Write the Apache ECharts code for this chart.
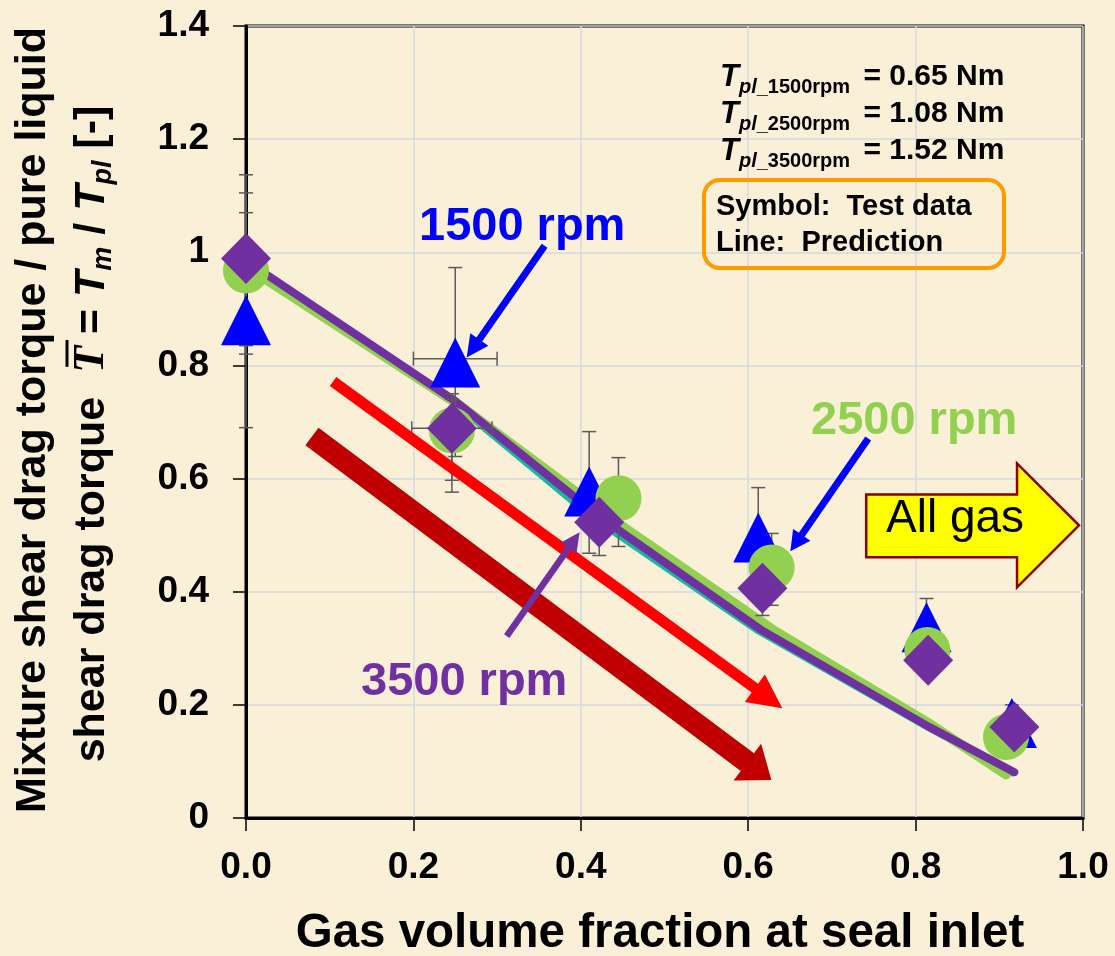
<!DOCTYPE html>
<html>
<head>
<meta charset="utf-8">
<script src="https://cdn.jsdelivr.net/npm/echarts@6/dist/echarts.min.js"></script>
<style>
html,body{margin:0;padding:0;background:#FAEFD7;}
#c{width:1115px;height:956px;}
</style>
</head>
<body>
<div id="c"></div>
<script>
// ---------- data ----------
const xTickLabels = ['0.0', '0.2', '0.4', '0.6', '0.8', '1.0'];
const yTickLabels = ['0', '0.2', '0.4', '0.6', '0.8', '1', '1.2', '1.4'];

// test data (symbols)
const gvf1500  = [0, 0.25, 0.41, 0.612, 0.813, 0.915];
const test1500 = [0.88, 0.805, 0.577, 0.496, 0.337, 0.168];
const low1500  = [0.69, 0.639, 0.468, 0.41, 0.29, 0.13];
const high1500 = [1.137, 0.973, 0.683, 0.584, 0.388, 0.2];

const gvf2500  = [0, 0.246, 0.445, 0.628, 0.814, 0.908];
const test2500 = [0.968, 0.685, 0.565, 0.443, 0.297, 0.143];
const low2500  = [0.835, 0.597, 0.48, 0.376, 0.26, 0.12];
const high2500 = [1.105, 0.75, 0.637, 0.503, 0.33, 0.17];

const gvf3500  = [0, 0.246, 0.422, 0.617, 0.815, 0.918];
const test3500 = [0.989, 0.689, 0.523, 0.406, 0.279, 0.161];
const low3500  = [0.82, 0.576, 0.464, 0.358, 0.25, 0.13];
const high3500 = [1.07, 0.74, 0.58, 0.45, 0.31, 0.19];

// horizontal error bars (gas fraction uncertainty) at 0.25
const hErrY    = [0.812, 0.689];
const hErrLow  = [0.2, 0.198];
const hErrHigh = [0.3, 0.294];

// predictions (lines)
const pred1500X = [0, 0.25, 0.41, 0.612, 0.813, 0.915];
const pred1500Y = [0.975, 0.732, 0.536, 0.331, 0.162, 0.08];
const pred2500X = [0, 0.25, 0.445, 0.63, 0.815, 0.908];
const pred2500Y = [0.975, 0.735, 0.52, 0.332, 0.168, 0.077];
const pred3500X = [0, 0.25, 0.42, 0.615, 0.815, 0.918];
const pred3500Y = [0.985, 0.737, 0.535, 0.333, 0.162, 0.081];

// ---------- chart ----------
const FONT = '"Liberation Sans", Arial, sans-serif';
const SERIF = '"Liberation Serif", "Times New Roman", serif';
const chart = echarts.init(document.getElementById('c'), null, {renderer: 'canvas'});

const pairs = (xs, ys) => xs.map((x, i) => [x, ys[i]]);

function lineSeries(xs, ys, color, width) {
  return {
    type: 'line', data: pairs(xs, ys), symbol: 'none', showSymbol: false,
    lineStyle: {color: color, width: width, cap: 'round', join: 'round'},
    clip: false, silent: true, z: 2
  };
}

function vErrSeries(xs, lo, hi) {
  return {
    type: 'custom', silent: true, clip: false, z: 3,
    data: xs.map((x, i) => [x, lo[i], hi[i]]),
    encode: {x: 0, y: [1, 2]},
    renderItem: function (params, api) {
      const x = api.value(0), l = api.value(1), h = api.value(2);
      const pt = api.coord([x, h]), pb = api.coord([x, l]);
      const c = 7;
      const st = {stroke: '#5B5B5B', lineWidth: 1.5};
      return {type: 'group', children: [
        {type: 'line', shape: {x1: pt[0], y1: pt[1], x2: pb[0], y2: pb[1]}, style: st},
        {type: 'line', shape: {x1: pt[0] - c, y1: pt[1], x2: pt[0] + c, y2: pt[1]}, style: st},
        {type: 'line', shape: {x1: pb[0] - c, y1: pb[1], x2: pb[0] + c, y2: pb[1]}, style: st}
      ]};
    }
  };
}

function hErrSeries(ys, lo, hi) {
  return {
    type: 'custom', silent: true, clip: false, z: 3,
    data: ys.map((y, i) => [y, lo[i], hi[i]]),
    encode: {y: 0, x: [1, 2]},
    renderItem: function (params, api) {
      const y = api.value(0), l = api.value(1), h = api.value(2);
      const pl = api.coord([l, y]), pr = api.coord([h, y]);
      const c = 7;
      const st = {stroke: '#5B5B5B', lineWidth: 1.5};
      return {type: 'group', children: [
        {type: 'line', shape: {x1: pl[0], y1: pl[1], x2: pr[0], y2: pr[1]}, style: st},
        {type: 'line', shape: {x1: pl[0], y1: pl[1] - c, x2: pl[0], y2: pl[1] + c}, style: st},
        {type: 'line', shape: {x1: pr[0], y1: pr[1] - c, x2: pr[0], y2: pr[1] + c}, style: st}
      ]};
    }
  };
}

function scatterSeries(xs, ys, symbol, size, color, z) {
  return {
    type: 'scatter', data: pairs(xs, ys), symbol: symbol, symbolSize: size,
    itemStyle: {color: color, opacity: 1}, clip: false, silent: true, z: z
  };
}

const option = {
  backgroundColor: '#FAEFD7',
  animation: false,
  grid: {left: 246, top: 26, right: 32, bottom: 138, show: true, borderColor: '#000', borderWidth: 3,
         backgroundColor: 'transparent', outerBoundsMode: 'none', containLabel: false},
  xAxis: {
    type: 'value', min: 0, max: 1, interval: 0.2,
    axisLine: {show: true, onZero: false, lineStyle: {color: '#000', width: 3}},
    axisTick: {show: true, inside: false, length: 13, lineStyle: {color: '#000', width: 1.5}},
    axisLabel: {show: true, margin: 31, color: '#000', fontSize: 37, fontWeight: 'bold', fontFamily: FONT,
                showMinLabel: true, showMaxLabel: true,
                formatter: v => xTickLabels[Math.round(v / 0.2)]},
    splitLine: {show: true, lineStyle: {color: '#D3D8DF', width: 1.5}}
  },
  yAxis: {
    type: 'value', min: 0, max: 1.4, interval: 0.2,
    axisLine: {show: true, onZero: false, lineStyle: {color: '#000', width: 3}},
    axisTick: {show: true, inside: false, length: 13, lineStyle: {color: '#000', width: 1.5}},
    axisLabel: {show: true, margin: 37, color: '#000', fontSize: 37, fontWeight: 'bold', fontFamily: FONT,
                showMinLabel: true, showMaxLabel: true,
                formatter: v => yTickLabels[Math.round(v / 0.2)]},
    splitLine: {show: true, lineStyle: {color: '#D3D8DF', width: 1.5}}
  },
  series: [
    lineSeries(pred1500X, pred1500Y, '#19B7A0', 7),
    lineSeries(pred2500X, pred2500Y, '#92D050', 10),
    lineSeries(pred3500X, pred3500Y, '#7030A0', 8),
    vErrSeries(gvf1500, low1500, high1500),
    vErrSeries(gvf2500, low2500, high2500),
    vErrSeries(gvf3500, low3500, high3500),
    hErrSeries(hErrY, hErrLow, hErrHigh),
    scatterSeries(gvf1500, test1500, 'triangle', [50, 50], '#0000FF', 5),
    scatterSeries(gvf2500, test2500, 'circle', 46, '#92D050', 6),
    scatterSeries(gvf3500, test3500, 'diamond', [50, 51], '#7030A0', 7)
  ]
};
chart.setOption(option);

// ---------- annotations ----------
const P = (x, y) => chart.convertToPixel({gridIndex: 0}, [x, y]);

function arrowPoly(a, b, w, hw, hl) {
  const p0 = P(a[0], a[1]), p1 = P(b[0], b[1]);
  const dx = p1[0] - p0[0], dy = p1[1] - p0[1];
  const len = Math.hypot(dx, dy), ux = dx / len, uy = dy / len, nx = -uy, ny = ux;
  const bx = p1[0] - ux * hl, by = p1[1] - uy * hl;
  return [
    [p0[0] + nx * w / 2, p0[1] + ny * w / 2],
    [bx + nx * w / 2, by + ny * w / 2],
    [bx + nx * hw / 2, by + ny * hw / 2],
    [p1[0], p1[1]],
    [bx - nx * hw / 2, by - ny * hw / 2],
    [bx - nx * w / 2, by - ny * w / 2],
    [p0[0] - nx * w / 2, p0[1] - ny * w / 2]
  ];
}

const arrows = [
  {from: [0.104, 0.7715], to: [0.6408, 0.1942], w: 11, hw: 34, hl: 34, color: '#FF0000'},
  {from: [0.0788, 0.6744], to: [0.6277, 0.0671], w: 22, hw: 46, hl: 30, color: '#C00000'},
  {from: [0.3568, 1.0117], to: [0.2637, 0.8139], w: 7, hw: 22, hl: 22, color: '#0000FF'},
  {from: [0.7434, 0.6709], to: [0.6504, 0.4714], w: 7, hw: 21, hl: 20, color: '#0000FF'},
  {from: [0.3115, 0.3213], to: [0.3986, 0.5049], w: 6.5, hw: 19, hl: 19, color: '#7030A0'}
];

// "All gas" block arrow outline (data coords)
const allGasShape = [[0.741, 0.572], [0.9212, 0.572], [0.9212, 0.6268], [0.9952, 0.5173],
                     [0.9212, 0.4078], [0.9212, 0.4608], [0.741, 0.4608]];

const graphics = [];
arrows.forEach(a => graphics.push({
  type: 'polygon', z: 50, silent: true,
  shape: {points: arrowPoly(a.from, a.to, a.w, a.hw, a.hl)},
  style: {fill: a.color}
}));

graphics.push({
  type: 'polygon', z: 50, silent: true,
  shape: {points: allGasShape.map(p => P(p[0], p[1]))},
  style: {fill: '#FFFF00', stroke: '#8B0000', lineWidth: 2.5, lineJoin: 'miter'}
});
graphics.push({type: 'text', z: 51, silent: true, x: 886, y: 519,
  style: {text: 'All gas', fill: '#000', fontSize: 46, fontFamily: FONT, fontWeight: 'normal',
          textAlign: 'left', textVerticalAlign: 'middle'}});

// rpm labels
[['1500 rpm', 419, 227, '#0000FF'], ['2500 rpm', 811, 421, '#92D050'], ['3500 rpm', 361, 682, '#7030A0']]
  .forEach(t => graphics.push({type: 'text', z: 52, silent: true, x: t[1], y: t[2],
    style: {text: t[0], fill: t[3], fontSize: 47, fontWeight: 'bold', fontFamily: FONT,
            textAlign: 'left', textVerticalAlign: 'middle'}}));

// torque reference values
const tplRich = {
  T: {fontSize: 31, fontWeight: 'bold', fontStyle: 'italic', fontFamily: FONT, lineHeight: 40, verticalAlign: 'middle', fill: '#000'},
  si: {fontSize: 20, fontWeight: 'bold', fontStyle: 'italic', fontFamily: FONT, lineHeight: 21, verticalAlign: 'bottom', fill: '#000'},
  s: {fontSize: 20, fontWeight: 'bold', fontFamily: FONT, lineHeight: 21, verticalAlign: 'bottom', fill: '#000', padding: [0, 5, 0, 0]},
  n: {fontSize: 30, fontWeight: 'bold', fontFamily: FONT, lineHeight: 40, verticalAlign: 'middle', fill: '#000'}
};
[['1500', '0.65', 77], ['2500', '1.08', 114], ['3500', '1.52', 151]].forEach(r => graphics.push({
  type: 'text', z: 52, silent: true, x: 720, y: r[2],
  style: {text: '{T|T}{si|pl}{s|_' + r[0] + 'rpm}{n| = ' + r[1] + ' Nm}', rich: tplRich,
          textAlign: 'left', textVerticalAlign: 'middle'}
}));

// legend note box
graphics.push({type: 'rect', z: 52, silent: true, shape: {x: 704, y: 180, width: 300, height: 88, r: 16},
  style: {fill: 'none', stroke: '#FF9A00', lineWidth: 4}});
[['Symbol:  Test data', 207], ['Line:  Prediction', 243]].forEach(t => graphics.push({
  type: 'text', z: 53, silent: true, x: 716, y: t[1],
  style: {text: t[0], fill: '#000', fontSize: 29, fontWeight: 'bold', fontFamily: FONT,
          textAlign: 'left', textVerticalAlign: 'middle'}}));

// x axis title
graphics.push({type: 'text', z: 52, silent: true, x: 660, y: 934,
  style: {text: 'Gas volume fraction at seal inlet', fill: '#000', fontSize: 47.5, fontWeight: 'bold',
          fontFamily: FONT, textAlign: 'center', textVerticalAlign: 'middle'}});

// y axis title (two rotated lines)
graphics.push({type: 'text', z: 52, silent: true, x: 33, y: 420, rotation: Math.PI / 2,
  style: {text: 'Mixture shear drag torque / pure liquid', fill: '#000', fontSize: 43, fontWeight: 'bold',
          fontFamily: FONT, textAlign: 'center', textVerticalAlign: 'middle'}});

const ctx = document.createElement('canvas').getContext('2d');
const yRich = {
  a: {fontSize: 43, fontWeight: 'bold', fontStyle: 'normal', fontFamily: FONT, lineHeight: 50, verticalAlign: 'middle', fill: '#000'},
  tb: {fontSize: 44, fontWeight: 'bold', fontStyle: 'italic', fontFamily: SERIF, lineHeight: 50, verticalAlign: 'middle', fill: '#000'},
  t: {fontSize: 43, fontWeight: 'bold', fontStyle: 'italic', fontFamily: FONT, lineHeight: 50, verticalAlign: 'middle', fill: '#000'},
  s: {fontSize: 27, fontWeight: 'bold', fontStyle: 'italic', fontFamily: FONT, lineHeight: 20, verticalAlign: 'bottom', fill: '#000'}
};
const yTokens = [['a', 'shear drag torque  '], ['tb', 'T'], ['a', ' = '], ['t', 'T'], ['s', 'm'],
                 ['a', ' / '], ['t', 'T'], ['s', 'pl'], ['a', ' [-]']];
const widths = yTokens.map(tk => {
  const st = yRich[tk[0]];
  ctx.font = st.fontStyle + ' ' + st.fontWeight + ' ' + st.fontSize + 'px ' + st.fontFamily;
  return ctx.measureText(tk[1]).width;
});
const totalW = widths.reduce((a, b) => a + b, 0);
const tStart = -totalW / 2 + widths[0];
graphics.push({type: 'group', z: 52, silent: true, x: 92, y: 434, rotation: Math.PI / 2, children: [
  {type: 'text', z: 52, x: 0, y: 0,
   style: {text: yTokens.map(tk => '{' + tk[0] + '|' + tk[1] + '}').join(''), rich: yRich,
           textAlign: 'center', textVerticalAlign: 'middle'}},
  {type: 'line', z: 53, shape: {x1: tStart + 6, y1: -25, x2: tStart + widths[1] + 6, y2: -25},
   style: {stroke: '#000', lineWidth: 3}}
]});

chart.setOption({graphic: graphics});
</script>
</body>
</html>
